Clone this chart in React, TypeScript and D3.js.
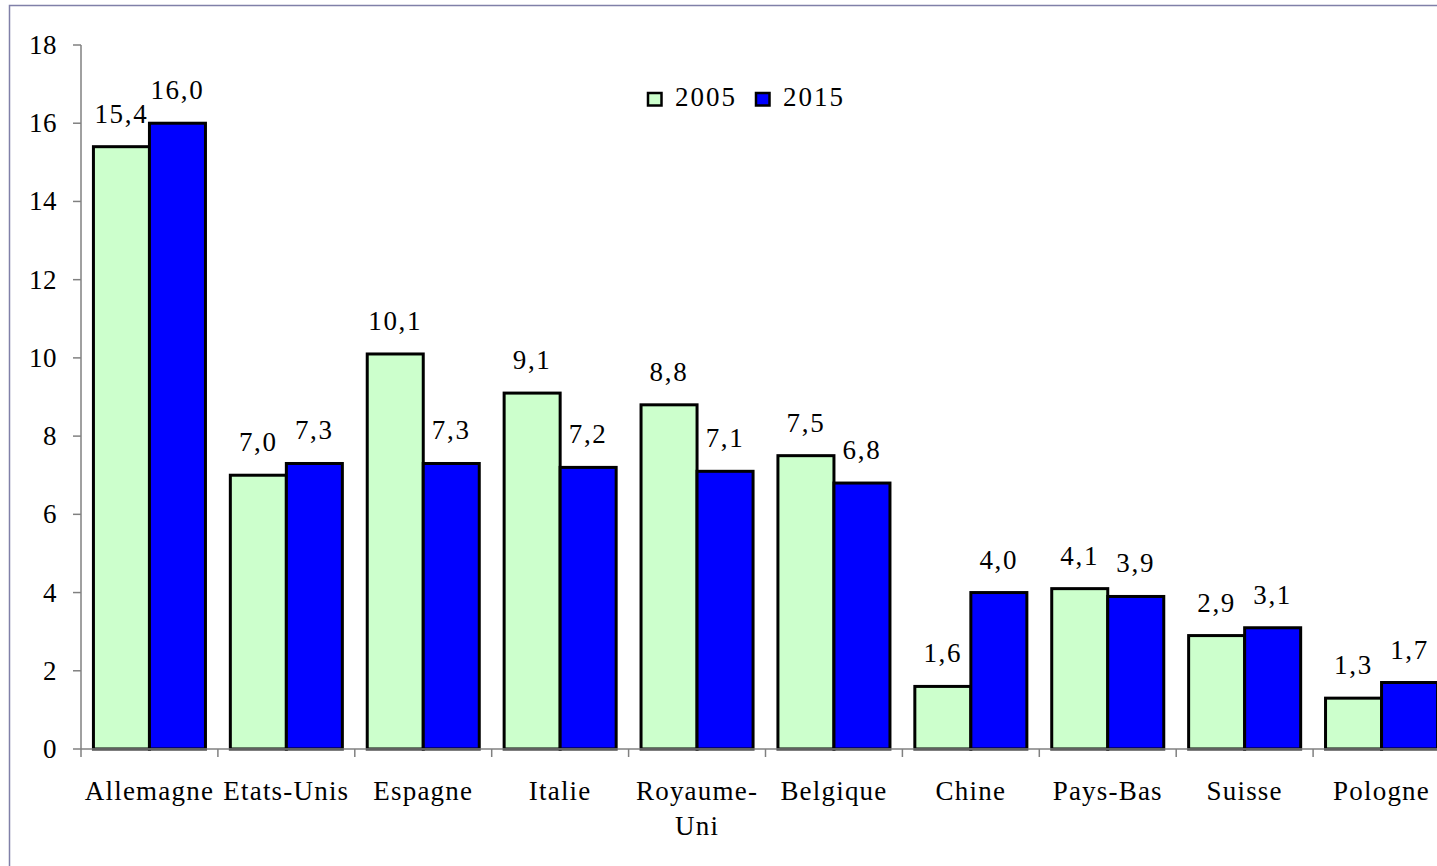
import React from "react";
import * as d3 from "d3";

const categories = ["Allemagne", "Etats-Unis", "Espagne", "Italie", "Royaume-Uni", "Belgique", "Chine", "Pays-Bas", "Suisse", "Pologne"];
const categoryLines = [["Allemagne"], ["Etats-Unis"], ["Espagne"], ["Italie"], ["Royaume-", "Uni"], ["Belgique"], ["Chine"], ["Pays-Bas"], ["Suisse"], ["Pologne"]];
const values2005 = [15.4, 7.0, 10.1, 9.1, 8.8, 7.5, 1.6, 4.1, 2.9, 1.3];
const values2015 = [16.0, 7.3, 7.3, 7.2, 7.1, 6.8, 4.0, 3.9, 3.1, 1.7];
const seriesNames = ["2005", "2015"];
const yTicks = [0, 2, 4, 6, 8, 10, 12, 14, 16, 18];

const colors = ["#CCFFCC", "#0000FF"];
const FONT = "Liberation Serif";

export default function App() {
  const W = 1437, H = 866;
  const x0 = 81, x1 = 1450;
  const yTop = 45, yBottom = 749;
  const x = d3.scaleBand<string>().domain(categories).range([x0, x1]).paddingInner(0).paddingOuter(0);
  const inner = d3.scaleBand<string>().domain(seriesNames).range([0, x.bandwidth()]).paddingInner(0).paddingOuter(0.222);
  const y = d3.scaleLinear().domain([0, 18]).range([yBottom, yTop]);
  const series = [values2005, values2015];
  const fmt = (v: number) => v.toFixed(1).replace(".", ",");
  const textStyle = { fontFamily: FONT };

  return (
    <svg width={W} height={H} style={{ position: "absolute", left: 0, top: 0, background: "#fff", fontFamily: FONT }}>
      <rect x={9.5} y={5.5} width={W + 20} height={H + 20} fill="#fff" stroke="#8080A8" strokeWidth={1.5} />
      {/* y axis */}
      <line x1={x0} x2={x0} y1={yTop} y2={yBottom} stroke="#808080" strokeWidth={1.5} />
      {yTicks.map((t) => (
        <g key={t}>
          <line x1={x0 - 8} x2={x0} y1={y(t)} y2={y(t)} stroke="#808080" strokeWidth={1.5} />
          <text style={textStyle} x={57} y={y(t) + 9} textAnchor="end" fontSize={27} letterSpacing={0.5} fill="#000">{t}</text>
        </g>
      ))}
      {/* bars */}
      {categories.map((c, i) => (
        <g key={c}>
          {seriesNames.map((s, j) => {
            const v = series[j][i];
            const bx = (x(c) as number) + (inner(s) as number);
            const bw = inner.bandwidth();
            return (
              <g key={s}>
                <rect x={bx} y={y(v)} width={bw} height={yBottom - y(v)} fill={colors[j]} stroke="#000" strokeWidth={3} />
                <text style={textStyle} x={bx + bw / 2} y={y(v) - 24} textAnchor="middle" fontSize={27} letterSpacing={1.7} fill="#000">{fmt(v)}</text>
              </g>
            );
          })}
        </g>
      ))}
      {/* x axis */}
      <line x1={x0} x2={x1} y1={yBottom} y2={yBottom} stroke="#808080" strokeWidth={1.5} />
      {categories.map((c) => (
        <line key={c} x1={x(c) as number} x2={x(c) as number} y1={yBottom} y2={yBottom + 8} stroke="#808080" strokeWidth={1.5} />
      ))}
      {categories.map((c, i) => (
        <text style={textStyle} key={c} x={(x(c) as number) + x.bandwidth() / 2} y={800} textAnchor="middle" fontSize={27} letterSpacing={1.2} fill="#000">
          {categoryLines[i].map((l, k) => (
            <tspan key={k} x={(x(c) as number) + x.bandwidth() / 2} dy={k === 0 ? 0 : 35}>{l}</tspan>
          ))}
        </text>
      ))}
      {/* legend */}
      {seriesNames.map((s, j) => (
        <g key={s} transform={`translate(${648 + j * 108}, 93)`}>
          <rect x={0} y={0} width={13.5} height={12.5} fill={colors[j]} stroke="#000" strokeWidth={2.5} />
          <text style={textStyle} x={27} y={13} fontSize={27} letterSpacing={2} fill="#000">{s}</text>
        </g>
      ))}
    </svg>
  );
}
